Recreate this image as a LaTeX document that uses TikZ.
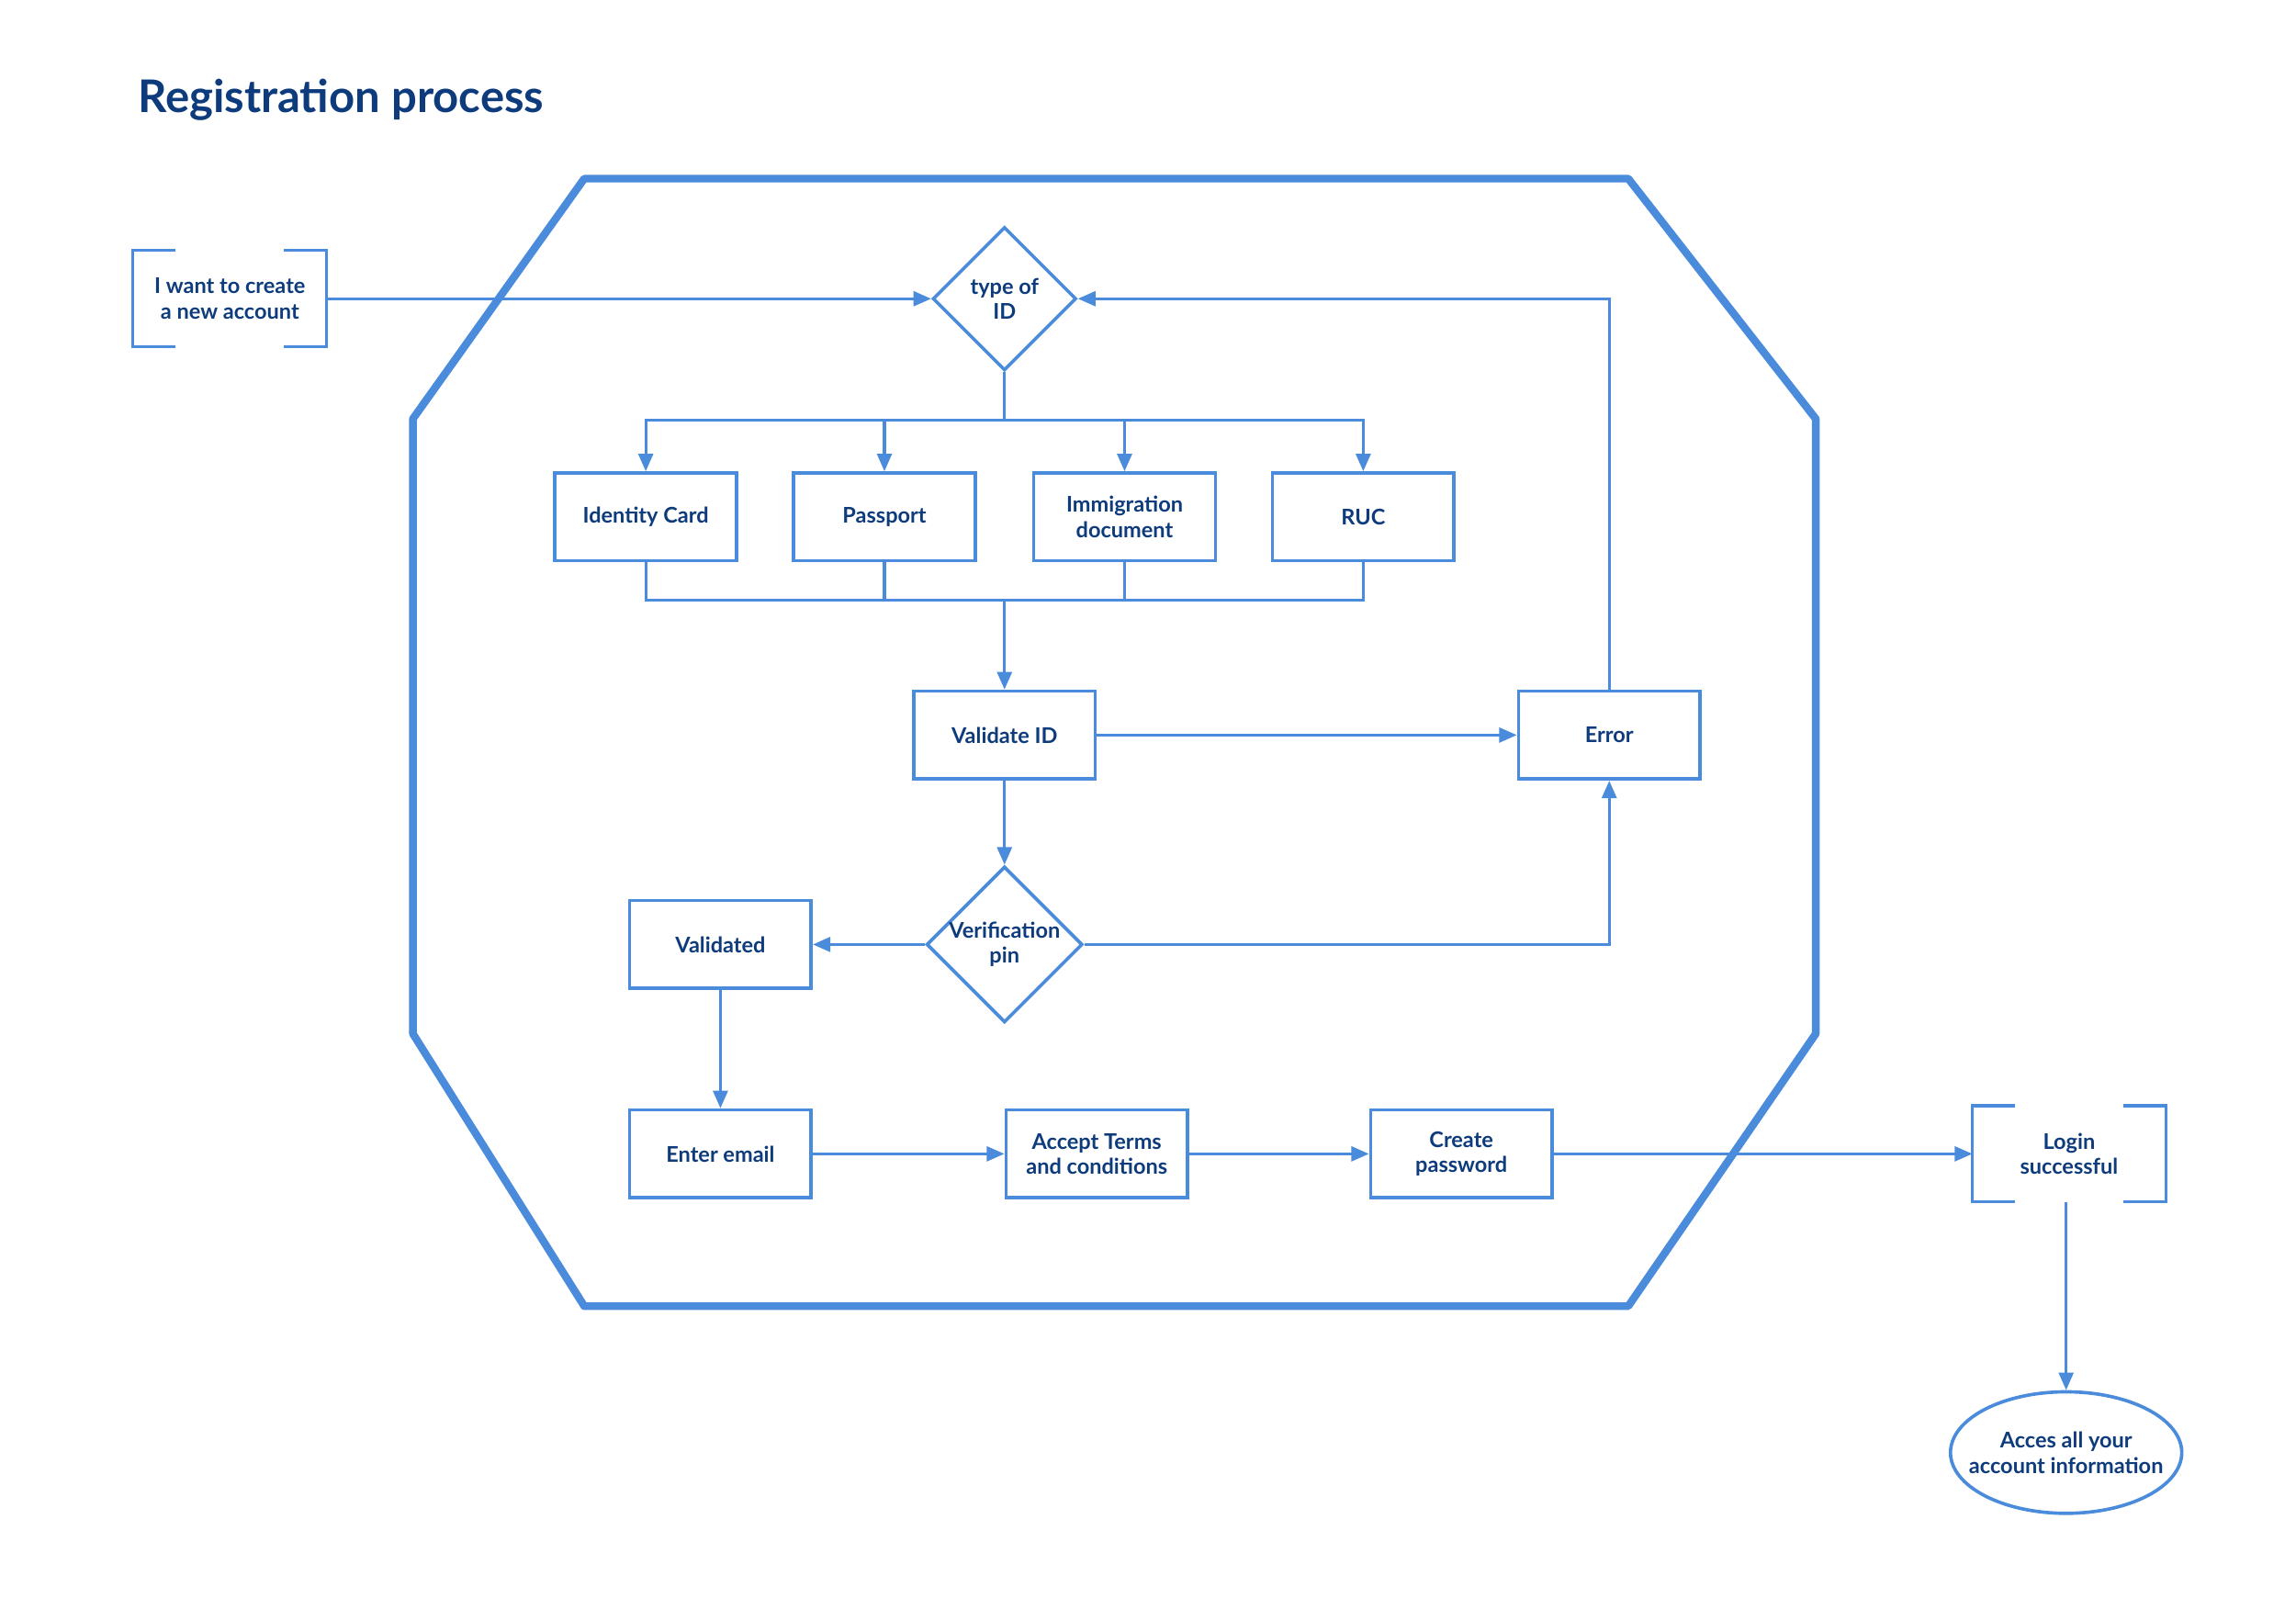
\documentclass[tikz,border=0pt]{standalone}
\usepackage{fontspec}
\setmainfont{Lato}
\usetikzlibrary{shapes.geometric,arrows.meta}
\definecolor{flowline}{HTML}{4A8BDB}
\definecolor{flowtext}{HTML}{0D3B7C}
\tikzset{
  flow/.style={draw=flowline, line width=1.1pt},
  arr/.style={flow, -{Triangle[length=0.24cm,width=0.2cm]}},
  txt/.style={text=flowtext, align=center, inner sep=0pt, font=\bfseries\fontsize{8.4}{9.8}\selectfont},
  box/.style={txt, draw=flowline, line width=1.3pt, fill=white, minimum width=2.48cm, minimum height=1.2cm},
  decision/.style={txt, diamond, draw=flowline, line width=1.3pt, fill=white, aspect=1},
  bracketbox/.style={txt, minimum width=2.63cm, minimum height=1.3cm},
  terminal/.style={txt, ellipse, draw=flowline, line width=1.3pt, fill=white, inner xsep=-0.23cm, minimum width=3.16cm, minimum height=1.66cm}
}
\begin{document}
\begin{tikzpicture}[x=0.02cm, y=-0.02cm]
  \useasboundingbox (0,0) rectangle (1568,1091);
  \node[anchor=west, text=flowtext, font=\bfseries\fontsize{17.5}{20}\selectfont] (title) at (88,68) {Registration process};
  % big frame
  \draw[flowline, line width=3pt, line join=round] (399,122) -- (1112,122) -- (1240,286) -- (1240,706)
    -- (1112,892) -- (399,892) -- (282,706) -- (282,286) -- cycle;

  \node[bracketbox] (start) at (157,204) {I want to create\\a new account};
  \draw[flow] ([xshift=0.58cm]start.north west) -| (start.south west) -- ++(29,0);
  \draw[flow] ([xshift=-0.58cm]start.north east) -| (start.south east) -- ++(-29,0);

  \node[decision, minimum width=1.96cm, minimum height=1.96cm] (typeid) at (686,204) {type of\\ID};

  \node[box] (idcard) at (441,353) {Identity Card};
  \node[box] (passport) at (604,353) {Passport};
  \node[box] (immig) at (768,353) {Immigration\\document};
  \node[box] (ruc) at (931,353) {RUC};

  \node[box] (validate) at (686,502) {Validate ID};
  \node[box] (error) at (1099,502) {Error};
  \node[decision, minimum width=2.06cm, minimum height=2.06cm] (verif) at (686,645) {Verification\\pin};
  \node[box] (validated) at (492,645) {Validated};

  \node[box] (email) at (492,788) {Enter email};
  \node[box] (terms) at (749,788) {Accept Terms\\and conditions};
  \node[box] (password) at (998,788) {Create\\password};

  \node[bracketbox] (login) at (1413,788) {Login\\successful};
  \draw[flow] ([xshift=0.58cm]login.north west) -| (login.south west) -- ++(29,0);
  \draw[flow] ([xshift=-0.58cm]login.north east) -| (login.south east) -- ++(-29,0);
  \node[terminal] (access) at (1411,992) {Acces all your\\account information};

  \coordinate (fork) at (686,287);
  \coordinate (merge) at (686,410);

  \draw[arr] (start.east) -- (typeid.west);
  \foreach \n in {idcard,passport,immig,ruc}{
    \draw[arr] (typeid.south) -- (fork) -| (\n.north);
    \draw[flow] (\n.south) |- (merge);
  }
  \draw[arr] (merge) -- (validate.north);
  \draw[arr] (validate) -- (error);
  \draw[arr] (error.north) |- (typeid.east);
  \draw[arr] (validate) -- (verif);
  \draw[arr] (verif) -- (validated);
  \draw[arr] (verif.east) -| (error.south);
  \draw[arr] (validated) -- (email);
  \draw[arr] (email) -- (terms);
  \draw[arr] (terms) -- (password);
  \draw[arr] (password) -- (login.west);
  \draw[arr] (login.south -| access.north) -- (access.north);
\end{tikzpicture}
\end{document}
